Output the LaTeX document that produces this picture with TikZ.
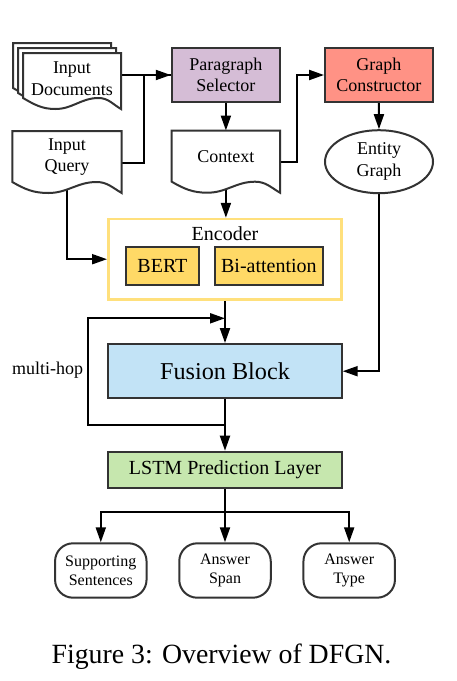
\documentclass[tikz,border=0pt]{standalone}
\usepackage{fontspec}
\setmainfont{Liberation Serif}
\usetikzlibrary{arrows.meta, shapes.geometric, backgrounds}

\definecolor{selectorfill}{HTML}{D5BDD6}
\definecolor{constructorfill}{HTML}{FF9285}
\definecolor{encoderline}{HTML}{FFE07C}
\definecolor{bertfill}{HTML}{FFD966}
\definecolor{fusionfill}{HTML}{C2E3F6}
\definecolor{lstmfill}{HTML}{C6E7AE}
\definecolor{edgegray}{HTML}{333333}

\newcommand{\bigfont}{\fontsize{24.2}{28}\selectfont}
\newcommand{\boxfont}{\fontsize{20}{24}\selectfont}
\newcommand{\midfont}{\fontsize{18}{21.5}\selectfont}
\newcommand{\smallfont}{\fontsize{16}{19}\selectfont}

% document outline: top left corner, width, height of the straight left side
\newcommand{\docshape}[3]{%
  \draw[line width=2pt, draw=edgegray, fill=white] #1 -- ++(#2,0) -- ++(0,{-#3-11})
    to[out=150,in=0] ++({-0.23*#2},11) to[out=180,in=0] ++({-0.44*#2},-11)
    to[out=180,in=-30] ++({-0.33*#2},11) -- cycle;}

\tikzset{
  box/.style = {draw=edgegray, line width=2pt, align=center, inner sep=0pt},
  doc/.style = {align=center, font=\midfont, inner sep=0pt},
  link/.style = {line width=2pt},
  arrow/.style = {line width=2pt, -{Triangle[length=15pt,width=10pt]}},
  result/.style = {box, rounded corners=18pt, minimum width=91.5pt, minimum height=54.4pt, font=\smallfont}
}

\begin{document}
\begin{tikzpicture}[x=1pt, y=1pt]
\useasboundingbox (0,0) rectangle (456,-681);

\docshape{(13,-43)}{98}{45}
\docshape{(18,-48)}{98}{45}
\docshape{(23,-53)}{98}{45}
\path (72,-78.5) node[doc, minimum width=98pt, minimum height=45pt] (docs) {Input\\Documents};
\docshape{(12.3,-131)}{109.4}{51}
\path (67,-157) node[doc, minimum width=109.4pt, minimum height=51pt] (query) {Input\\Query};
\docshape{(171.7,-130.7)}{108.3}{51}
\path (225.9,-156.2) node[doc, minimum width=108.3pt, minimum height=51pt] (context) {Context};

\path (225.9,-75) node[box, fill=selectorfill, minimum width=108.3pt, minimum height=53.4pt, font=\midfont] (selector) {Paragraph\\Selector};
\path (378.9,-75) node[box, fill=constructorfill, minimum width=107.7pt, minimum height=53.4pt, font=\midfont] (constructor) {Graph\\Constructor};
\path (379,-161.7) node[box, ellipse, minimum width=108pt, minimum height=63pt, font=\midfont] (entity) {Entity\\Graph};

\path (225,-259.2) node[draw=encoderline, line width=2.5pt, minimum width=233.4pt, minimum height=80.3pt] (encoder) {};
\path (225,-233.3) node[font=\boxfont] (encodername) {Encoder};
\path (162.4,-266.2) node[box, fill=bertfill, minimum width=72.7pt, minimum height=37.7pt, font=\boxfont] (bert) {BERT};
\path (268.9,-266.2) node[box, fill=bertfill, minimum width=107.7pt, minimum height=37.7pt, font=\boxfont] (biatt) {Bi-attention};

\path (225,-371.2) node[box, fill=fusionfill, minimum width=233.4pt, minimum height=54.3pt, font=\bigfont] (fusion) {Fusion Block};
\path (47.5,-370) node[font=\midfont] (hoplabel) {multi-hop};
\path (225,-469.7) node[box, fill=lstmfill, minimum width=233.4pt, minimum height=36pt, font=\boxfont] (lstm) {LSTM Prediction Layer};

\path (100.8,-570.5) node[result] (support) {Supporting\\Sentences};
\path (225,-570.5) node[result] (span) {Answer\\Span};
\path (349.2,-570.5) node[result] (anstype) {Answer\\Type};

\path (225,-424.5) coordinate (hopstart);
\path (225,-318.3) coordinate (hopend);

\begin{scope}[on background layer]
\draw[arrow] (docs.east |- selector.west) -- (selector.west);
\draw[link] ([yshift=-5.5pt]query.east) -- ++(22.3,0) |- (selector.west);
\draw[arrow] (selector) -- (context);
\draw[arrow] ([yshift=-6pt]context.east) -- ++(16.7,0) |- (constructor.west);
\draw[arrow] (constructor) -- (entity);
\draw[arrow] (query.south) |- (encoder.west);
\draw[arrow] (context.south) -- (context.south |- encoder.north);
\draw[arrow] (encoder) -- (fusion);
\draw[arrow] (entity.south) |- (fusion.east);
\draw[arrow] (fusion) -- (lstm);
\draw[arrow] (hopstart) -- ++(-137,0) |- (hopend);
\draw[arrow] (lstm.south) -- (span.north);
\draw[arrow] (lstm.south) -- ++(0,-23.3) -| (support.north);
\draw[arrow] (lstm.south) -- ++(0,-23.3) -| (anstype.north);
\end{scope}

\path (221.5,-663.3) node[anchor=base, font=\fontsize{27.8}{32}\selectfont] (caption) {Figure 3: Overview of DFGN.};
\end{tikzpicture}
\end{document}
